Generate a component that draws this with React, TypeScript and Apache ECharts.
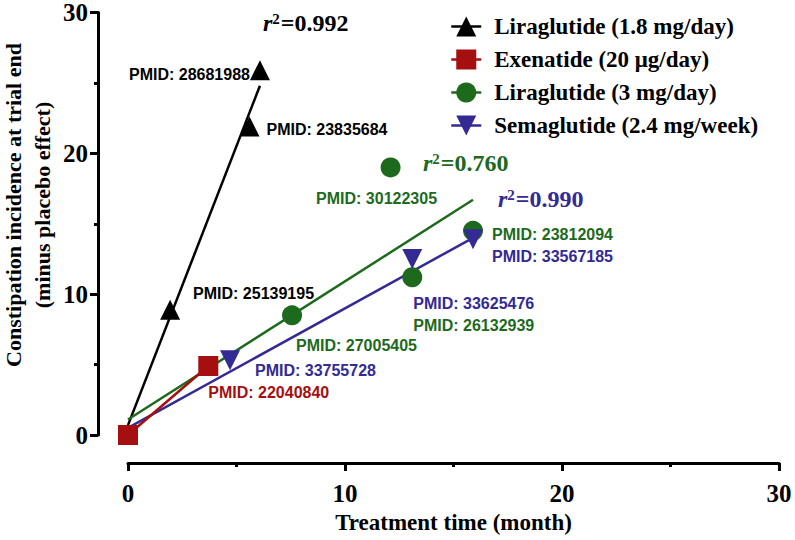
import React, { useEffect, useRef } from "react";
import * as echarts from "echarts";

// ---- data ----
const seriesNames = [
  "Liraglutide (1.8 mg/day)",
  "Exenatide (20 μg/day)",
  "Liraglutide (3 mg/day)",
  "Semaglutide (2.4 mg/week)",
];

// [treatment month, constipation incidence minus placebo]
const lira18Points = [[1.94, 8.9], [5.6, 21.9], [6.08, 25.9]];
const lira18Pmids = ["25139195", "23835684", "28681988"];

const exenPoints = [[0, 0], [3.7, 4.9]];
const exenPmids = ["", "22040840"];

const lira3Points = [[7.56, 8.5], [12.1, 19.0], [13.1, 11.2], [15.9, 14.5]];
const lira3Pmids = ["27005405", "30122305", "26132939", "23812094"];

const semaPoints = [[4.7, 5.3], [13.1, 12.5], [15.9, 13.9]];
const semaPmids = ["33755728", "33625476", "33567185"];

// regression line end points
const lira18Fit = [[0, 0.7], [6.08, 24.8]];
const lira3Fit = [[0, 1.1], [15.9, 16.7]];
const semaFit = [[0, 0.5], [15.9, 14.0]];

const r2Values = ["0.992", "0.760", "0.990"];

const xTicks = { min: 0, max: 30, interval: 10 };
const yTicks = { min: 0, max: 30, interval: 10 };

// ---- styles / layout ----
const BLACK = "#000000";
const RED = "#A50F0F";
const GREEN = "#1D6A1D";
const BLUE = "#332A93";
const SERIF = "'Liberation Serif', 'Times New Roman', serif";
const SANS = "'Liberation Sans', Arial, sans-serif";

// label placement relative to point: [dx, dy, align]
const lira18Lab: [number, number, string][] = [[23, -16, "left"], [17, 3, "left"], [-10, 4, "right"]];
const exenLab: [number, number, string][] = [[0, 0, "left"], [0, 27, "left"]];
const lira3Lab: [number, number, string][] = [[4, 30, "left"], [-14, 31, "center"], [1, 48, "left"], [19, 4, "left"]];
const semaLab: [number, number, string][] = [[25, 10, "left"], [1, 45, "left"], [19, 17, "left"]];

function buildData(points: number[][], pmids: string[], lab: [number, number, string][], color: string) {
  return points.map((p, i) => ({
    value: p,
    label: pmids[i]
      ? {
          show: true,
          position: "inside",
          formatter: "PMID: " + pmids[i],
          offset: [lab[i][0], lab[i][1]],
          align: lab[i][2],
          verticalAlign: "middle",
          color,
          fontFamily: SANS,
          fontWeight: "bold",
          fontSize: 16,
        }
      : { show: false },
  }));
}

function fitSeries(name: string, data: number[][], color: string) {
  return {
    name,
    type: "line",
    data,
    symbol: "none",
    silent: true,
    z: 1,
    lineStyle: { color, width: 2.5 },
  };
}

function pointSeries(name: string, data: any[], color: string, symbol: string, rotate: number, lineWidth: number, z: number) {
  return {
    name,
    type: "line",
    data,
    symbol,
    symbolSize: 20,
    symbolRotate: rotate,
    z,
    itemStyle: { color, opacity: 1 },
    lineStyle: { color, width: lineWidth },
  };
}

function r2Text(left: number, top: number, value: string, color: string) {
  return {
    type: "text",
    left,
    top,
    style: {
      text: "{r|r}{s|2}{v|=" + value + "}",
      fill: color,
      rich: {
        r: { fontFamily: SERIF, fontStyle: "italic", fontWeight: "bold", fontSize: 24, fill: color, verticalAlign: "bottom" },
        s: { fontFamily: SERIF, fontWeight: "bold", fontSize: 15, fill: color, verticalAlign: "top", padding: [0, 1, 0, 0] },
        v: { fontFamily: SERIF, fontWeight: "bold", fontSize: 24, fill: color, verticalAlign: "bottom" },
      },
    },
  };
}

export default function App() {
  const ref = useRef<HTMLDivElement>(null);
  useEffect(() => {
    if (!ref.current) return;
    const chart = echarts.init(ref.current, null, { renderer: "svg" });
    const axisCommon = {
      type: "value",
      splitLine: { show: false },
      axisLine: { show: true, onZero: false, lineStyle: { color: BLACK, width: 3 } },
      axisTick: { show: true, length: 8, lineStyle: { color: BLACK, width: 3 } },
      minorTick: { show: true, splitNumber: 2, length: 4, lineStyle: { color: BLACK, width: 3 } },
      axisLabel: { color: BLACK, fontFamily: SERIF, fontWeight: "bold", fontSize: 25 },
    };
    chart.setOption({
      animation: false,
      backgroundColor: "#ffffff",
      grid: { left: 128, right: 16, top: 10, bottom: 105, containLabel: false },
      xAxis: {
        ...axisCommon,
        ...xTicks,
        offset: 28,
        axisLabel: { ...axisCommon.axisLabel, margin: 18 },
        name: "Treatment time (month)",
        nameLocation: "middle",
        nameGap: 37,
        nameTextStyle: { color: BLACK, fontFamily: SERIF, fontWeight: "bold", fontSize: 23 },
      },
      yAxis: {
        ...axisCommon,
        ...yTicks,
        offset: 30,
        axisLabel: { ...axisCommon.axisLabel, margin: 10 },
      },
      legend: {
        orient: "vertical",
        left: 445,
        top: 10,
        itemWidth: 30,
        itemHeight: 25,
        itemGap: 10,
        data: seriesNames,
        selectedMode: false,
        lineStyle: { width: 2.5, opacity: 1 },
        textStyle: { color: BLACK, fontFamily: SERIF, fontWeight: "bold", fontSize: 23, padding: [0, 0, 0, 8] },
      },
      graphic: [
        {
          type: "text",
          x: 28,
          y: 205,
          rotation: Math.PI / 2,
          style: {
            text: "Constipation incidence at trial end\n(minus placebo effect)",
            fill: BLACK,
            font: "bold 22px " + SERIF,
            align: "center",
            verticalAlign: "middle",
            lineHeight: 29,
          },
        },
        r2Text(263, 11, r2Values[0], BLACK),
        r2Text(423, 151, r2Values[1], GREEN),
        r2Text(498, 187, r2Values[2], BLUE),
      ],
      series: [
        fitSeries("fit18", lira18Fit, BLACK),
        fitSeries("fit3", lira3Fit, GREEN),
        fitSeries("fitSema", semaFit, BLUE),
        pointSeries(seriesNames[0], buildData(lira18Points, lira18Pmids, lira18Lab, BLACK), BLACK, "triangle", 0, 0, 3),
        pointSeries(seriesNames[2], buildData(lira3Points, lira3Pmids, lira3Lab, GREEN), GREEN, "circle", 0, 0, 3),
        pointSeries(seriesNames[3], buildData(semaPoints, semaPmids, semaLab, BLUE), BLUE, "triangle", 180, 0, 4),
        pointSeries(seriesNames[1], buildData(exenPoints, exenPmids, exenLab, RED), RED, "rect", 0, 2.5, 5),
      ],
    });
    return () => chart.dispose();
  }, []);
  return <div ref={ref} style={{ width: 795, height: 540, position: "absolute", left: 0, top: 0 }} />;
}
